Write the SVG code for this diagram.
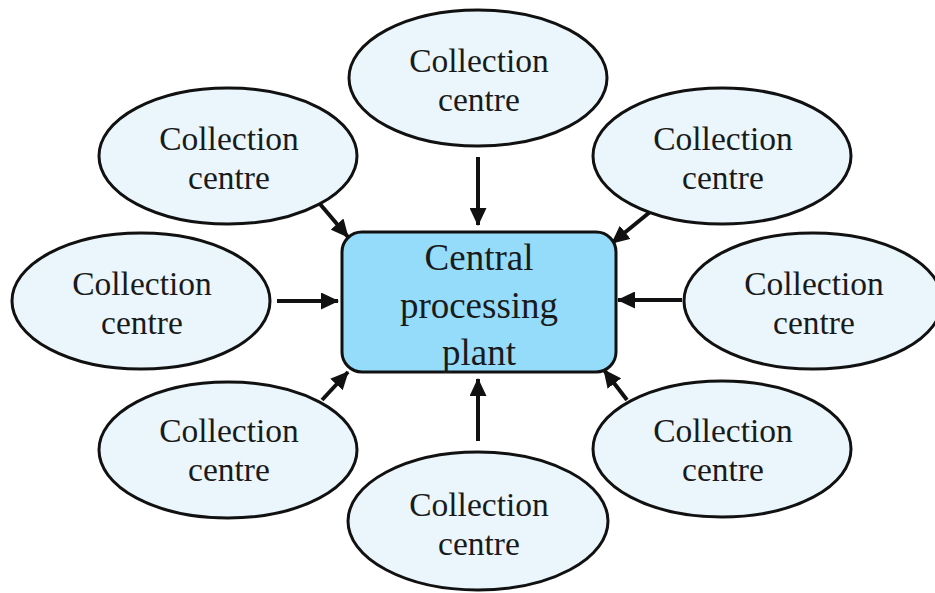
<svg xmlns="http://www.w3.org/2000/svg" width="935" height="593" viewBox="0 0 935 593">
<style>
.cc ellipse{fill:#EAF6FC;stroke:#111;stroke-width:3}
.txt{font-family:"Liberation Serif","Times New Roman",serif;fill:#1a1a1a;text-anchor:middle}
.cc text{font-size:33.5px}
#central rect{fill:#95DCFA;stroke:#111;stroke-width:3}
#central text{font-size:37px}
#connectors line{stroke:#111;stroke-width:4;marker-end:url(#ah)}
</style>
<defs>
<marker id="ah" markerUnits="userSpaceOnUse" markerWidth="18" markerHeight="17" refX="17" refY="8.5" orient="auto" viewBox="0 0 18 17">
<path d="M0,0 L18,8.5 L0,17 z" fill="#111"/>
</marker>
</defs>
<rect width="935" height="593" fill="#fff"/>
<g id="connectors">
<line x1="478" y1="157" x2="478" y2="225"/>
<line x1="478" y1="441" x2="478" y2="379"/>
<line x1="277" y1="301" x2="338" y2="301"/>
<line x1="682" y1="300" x2="618" y2="300"/>
<line x1="320" y1="204" x2="348" y2="237"/>
<line x1="650" y1="212" x2="612" y2="243"/>
<line x1="322" y1="400" x2="348" y2="372"/>
<line x1="627" y1="400" x2="604" y2="370"/>
</g>
<g id="central">
<rect x="342" y="232" width="274" height="140" rx="20"/>
<text class="txt" x="479" y="270">Central</text>
<text class="txt" x="479" y="318">processing</text>
<text class="txt" x="479" y="365">plant</text>
</g>
<g id="cc-top" class="cc">
<ellipse cx="478" cy="78" rx="129" ry="68"/>
<text class="txt" x="479" y="72">Collection</text>
<text class="txt" x="479" y="111">centre</text>
</g>
<g id="cc-topleft" class="cc">
<ellipse cx="228" cy="156" rx="129" ry="68"/>
<text class="txt" x="229" y="150">Collection</text>
<text class="txt" x="229" y="189">centre</text>
</g>
<g id="cc-topright" class="cc">
<ellipse cx="722" cy="156" rx="129" ry="68"/>
<text class="txt" x="723" y="150">Collection</text>
<text class="txt" x="723" y="189">centre</text>
</g>
<g id="cc-left" class="cc">
<ellipse cx="141" cy="301" rx="129" ry="68"/>
<text class="txt" x="142" y="295">Collection</text>
<text class="txt" x="142" y="334">centre</text>
</g>
<g id="cc-right" class="cc">
<ellipse cx="813" cy="301" rx="129" ry="68"/>
<text class="txt" x="814" y="295">Collection</text>
<text class="txt" x="814" y="334">centre</text>
</g>
<g id="cc-bottomleft" class="cc">
<ellipse cx="228" cy="450" rx="129" ry="68"/>
<text class="txt" x="229" y="442">Collection</text>
<text class="txt" x="229" y="481">centre</text>
</g>
<g id="cc-bottomright" class="cc">
<ellipse cx="722" cy="449" rx="129" ry="68"/>
<text class="txt" x="723" y="442">Collection</text>
<text class="txt" x="723" y="481">centre</text>
</g>
<g id="cc-bottom" class="cc">
<ellipse cx="478" cy="521" rx="130" ry="69"/>
<text class="txt" x="479" y="516">Collection</text>
<text class="txt" x="479" y="555">centre</text>
</g>
</svg>
